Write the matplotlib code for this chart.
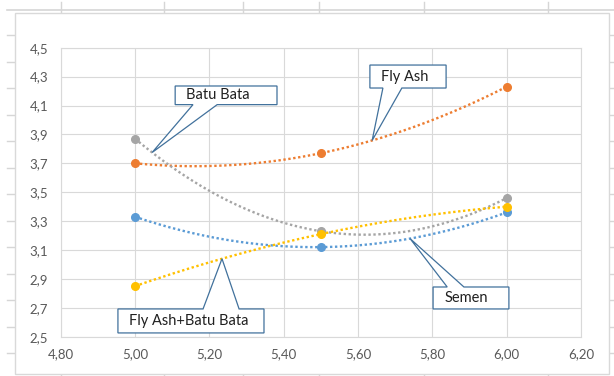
import numpy as np
import matplotlib
matplotlib.use("Agg")
import matplotlib.pyplot as plt
from matplotlib.lines import Line2D
from matplotlib.patches import Polygon, Rectangle

plt.rcParams['font.family'] = ['Lato', 'DejaVu Sans']

# data: three mix ratios, four mixtures
x_vals = [5.0, 5.5, 6.0]
fly_ash = [3.70, 3.77, 4.23]
batu_bata = [3.87, 3.23, 3.46]
semen = [3.33, 3.12, 3.36]
fa_bb = [2.85, 3.21, 3.40]

series = [
    ("Semen", semen, "#5B9BD5"),
    ("Fly Ash", fly_ash, "#ED7D31"),
    ("Batu Bata", batu_bata, "#A5A5A5"),
    ("Fly Ash+Batu Bata", fa_bb, "#FFC000"),
]

x_ticks = [4.8, 5.0, 5.2, 5.4, 5.6, 5.8, 6.0, 6.2]
y_ticks = [2.5, 2.7, 2.9, 3.1, 3.3, 3.5, 3.7, 3.9, 4.1, 4.3, 4.5]

W, H = 614, 376
fig = plt.figure(figsize=(W / 100, H / 100), dpi=100)
fig.patch.set_facecolor("white")


def fx(px):
    return px / W


def fy(py):
    return 1 - py / H


# worksheet cell lines around the chart object
cell = "#D6D6D6"
fig.add_artist(Line2D([fx(7), fx(614)], [fy(9.5), fy(9.5)], color=cell, lw=1.2, zorder=-3))
for px in [61, 164, 243, 319, 424, 548]:
    fig.add_artist(Line2D([fx(px), fx(px)], [fy(2), fy(12)], color=cell, lw=1, zorder=-3))
    fig.add_artist(Line2D([fx(px), fx(px)], [fy(374), fy(376)], color=cell, lw=1, zorder=-3))
for py in np.arange(35, 376, 26.5):
    fig.add_artist(Line2D([fx(7), fx(15)], [fy(py), fy(py)], color=cell, lw=1, zorder=-3))
    fig.add_artist(Line2D([fx(609), fx(614)], [fy(py), fy(py)], color=cell, lw=1, zorder=-3))

# chart object frame
fig.add_artist(Rectangle((fx(15), fy(374)), fx(609 - 15), (374 - 12.5) / H,
                         facecolor="white", edgecolor="#D9D9D9", lw=1, zorder=-2))

ax = fig.add_axes([fx(60.7), fy(336.7), fx(520.3), 289 / H])
ax.set_xlim(4.8, 6.2)
ax.set_ylim(2.5, 4.5)
ax.set_xticks(x_ticks)
ax.set_yticks(y_ticks)
ax.set_xticklabels([f"{v:.2f}".replace(".", ",") for v in x_ticks])
ax.set_yticklabels([f"{v:.1f}".replace(".", ",") for v in y_ticks])
ax.tick_params(length=0, labelsize=9.5, labelcolor="#595959")
ax.tick_params(axis="x", pad=8)
ax.tick_params(axis="y", pad=9)
ax.grid(True, color="#D9D9D9", lw=0.8)
ax.set_axisbelow(True)
for s in ax.spines.values():
    s.set_color("#D9D9D9")
    s.set_linewidth(0.8)

fits = {}
xx = np.linspace(x_vals[0], x_vals[-1], 200)
for name, ys, color in series:
    coef = np.polyfit(x_vals, ys, 2)
    fits[name] = coef
    ax.plot(xx, np.polyval(coef, xx), color=color, lw=1.7,
            linestyle=(0, (1, 1.1)), zorder=2)
    ax.plot(x_vals, ys, "o", color=color, markersize=5.5, zorder=3)

# callouts: box (x0, x1, y0, y1), pointer base x range, tip x on the series curve
callouts = [
    ("Batu Bata", (5.108, 5.382, 4.106, 4.235), (5.156, 5.221), 5.046, "bottom"),
    ("Fly Ash", (5.632, 5.837, 4.221, 4.380), (5.667, 5.718), 5.638, "bottom"),
    ("Fly Ash+Batu Bata", (4.954, 5.347, 2.526, 2.692), (5.183, 5.280), 5.234, "top"),
    ("Semen", (5.802, 6.006, 2.692, 2.844), (5.840, 5.885), 5.740, "top"),
]
outline = "#41719C"
for name, (x0, x1, y0, y1), (b0, b1), tip_x, side in callouts:
    tip = (tip_x, np.polyval(fits[name], tip_x))
    if side == "bottom":
        verts = [(x0, y1), (x1, y1), (x1, y0), (b1, y0), tip, (b0, y0), (x0, y0)]
    else:
        verts = [(x0, y0), (x1, y0), (x1, y1), (b1, y1), tip, (b0, y1), (x0, y1)]
    ax.add_patch(Polygon(verts, closed=True, facecolor="white", edgecolor=outline,
                         lw=0.9, zorder=4, clip_on=False))
    ax.annotate(name, (x0, (y0 + y1) / 2), xytext=(8, 0), textcoords="offset points",
                ha="left", va="center", fontsize=10.5, color="#202020", zorder=5)

fig.savefig("out.png", dpi=100)
